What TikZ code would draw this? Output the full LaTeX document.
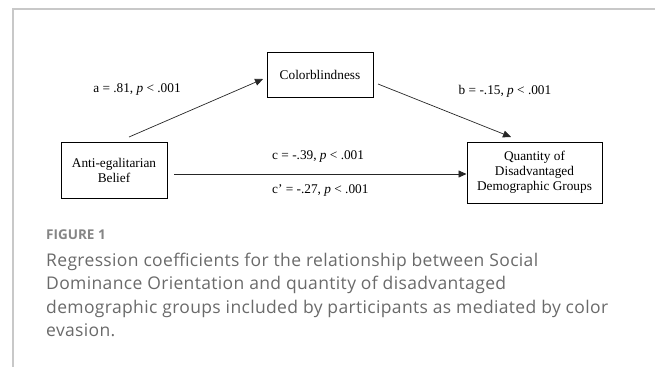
\documentclass[tikz,border=0pt]{standalone}
\usepackage{fontspec}
\setmainfont{Liberation Serif}
\newfontfamily\capfont[LetterSpace=2]{Open Sans}
\newfontfamily\figfont{Open Sans}
\usetikzlibrary{arrows.meta}
\definecolor{framegray}{HTML}{C8C8C8}
\definecolor{captext}{HTML}{6A6A6A}
\definecolor{figtext}{HTML}{858585}
\tikzset{
  box/.style={draw=black, line width=1pt, minimum width=#1, align=center, inner sep=0pt, font=\fontsize{13.3}{15}\selectfont},
  conn/.style={draw=black!85, line width=0.7pt, -{Triangle[length=8pt,width=7pt]}},
  lbl/.style={font=\fontsize{13.3}{15}\selectfont, inner sep=0pt},
  capt/.style={align=left, inner sep=0pt},
}
\begin{document}
\begin{tikzpicture}[x=1pt,y=-1pt]
\useasboundingbox (0,0) rectangle (655,367);
\draw[framegray, line width=1.2pt] (655,9) -- (13,9) -- (13,367);
\node[box=106pt, minimum height=45pt] (cb) at (320,74.5) {Colorblindness};
\node[box=106pt, minimum height=56pt] (ae) at (114,170) {Anti-egalitarian\\Belief};
\node[box=135pt, minimum height=61pt] (qd) at (534.5,172.5) {Quantity of\\Disadvantaged\\Demographic Groups};
\coordinate (a0) at (129,137);
\coordinate (a1) at (263,79);
\coordinate (b0) at (378,84);
\coordinate (b1) at (511,137);
\coordinate (c0) at (174,174);
\draw[conn] (a0) -- (a1);
\draw[conn] (b0) -- (b1);
\draw[conn] (c0) -- (qd.west |- c0);
\node[lbl] (la) at (137,89) {a = .81, \textit{p} < .001};
\node[lbl] (lb) at (505,91) {b = -.15, \textit{p} < .001};
\node[lbl, anchor=west] (lc) at (272,156) {c = -.39, \textit{p} < .001};
\node[lbl, anchor=west] (lcp) at (272,190) {c’ = -.27, \textit{p} < .001};
\node[capt, anchor=base west, font=\figfont\bfseries\fontsize{13.5}{15}\selectfont, text=figtext] (fig) at (46,239) {FIGURE 1};
\node[capt, anchor=north west, font=\capfont\fontsize{17.5}{23.4}\selectfont, text=captext] (cap) at (46,253) {Regression coefficients for the relationship between Social\\Dominance Orientation and quantity of disadvantaged\\demographic groups included by participants as mediated by color\\evasion.};
\end{tikzpicture}
\end{document}
